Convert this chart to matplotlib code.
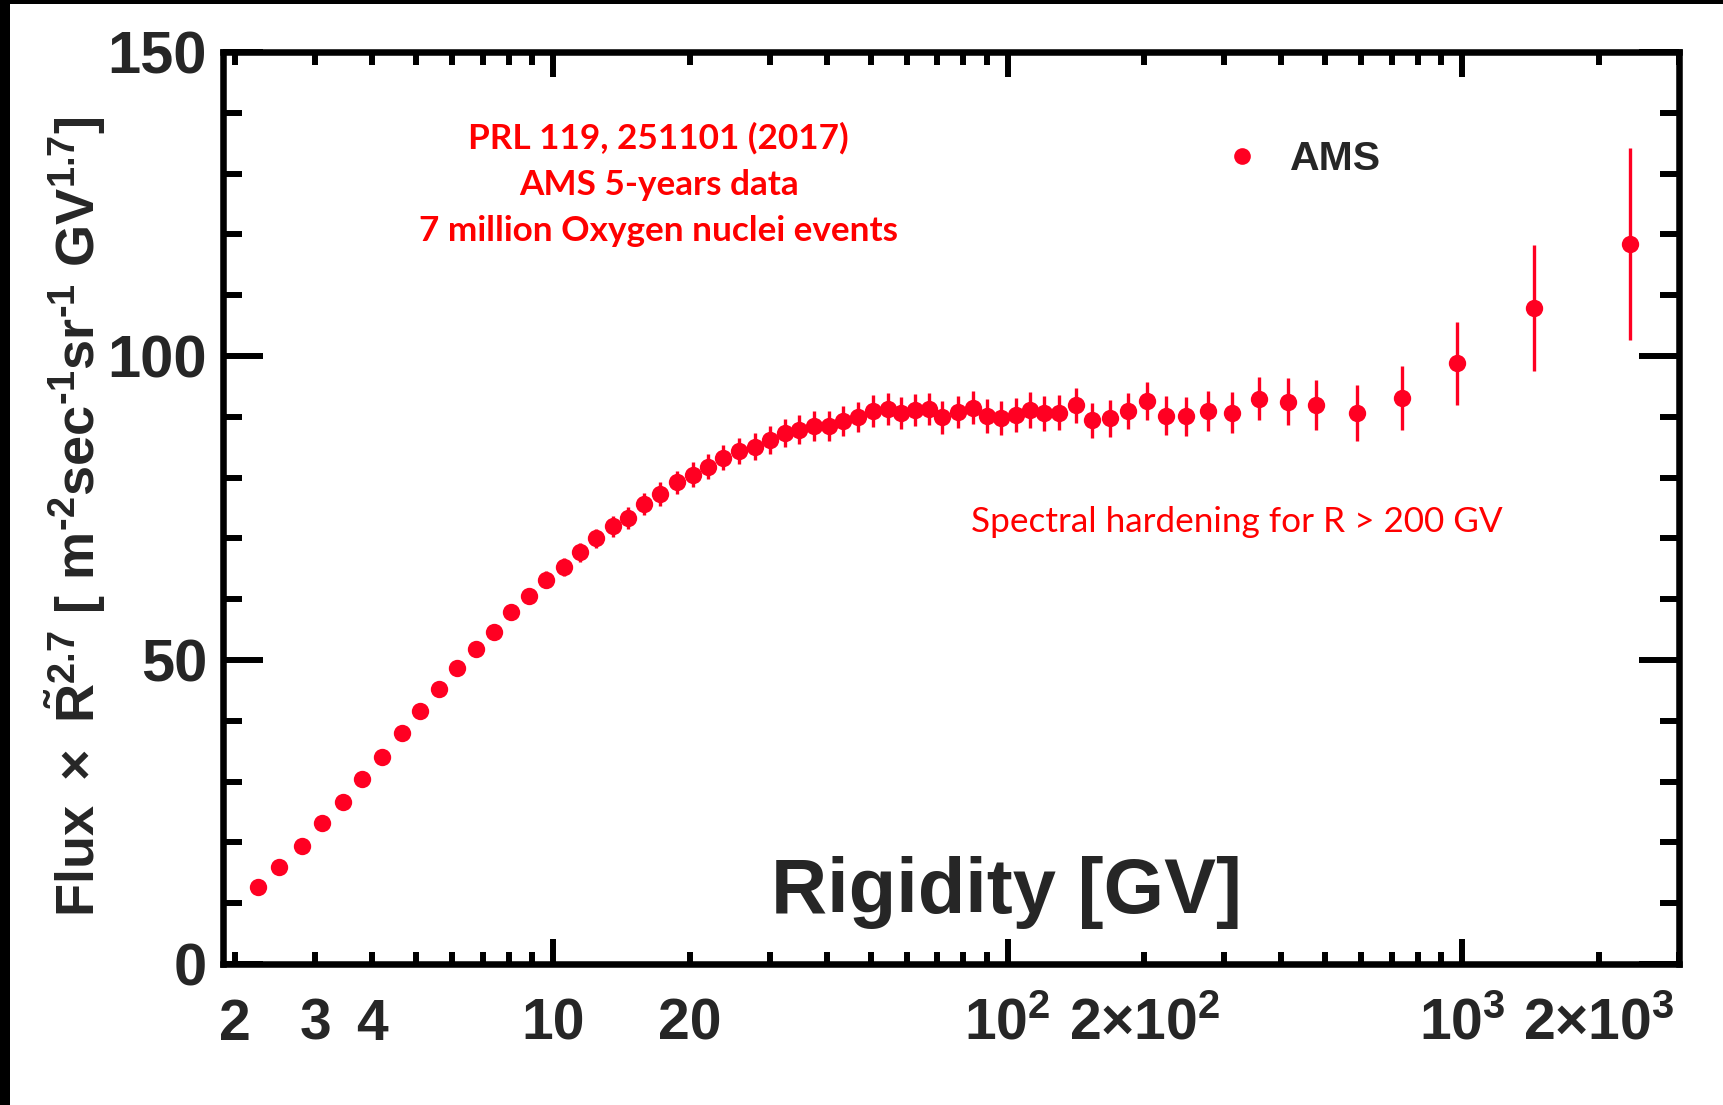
import numpy as np
import matplotlib
matplotlib.use("Agg")
import matplotlib.pyplot as plt
from matplotlib.ticker import LogLocator, MultipleLocator, FuncFormatter
from matplotlib.lines import Line2D
from matplotlib.patches import Rectangle

# ---------------- data ----------------
rigidity = [2.25, 2.50, 2.80, 3.11, 3.46, 3.81, 4.20, 4.65, 5.09, 5.61,
            6.14, 6.76, 7.41, 8.07, 8.85, 9.65, 10.56, 11.49, 12.46, 13.54,
            14.66, 15.89, 17.24, 18.75, 20.33, 21.93, 23.7, 25.7, 27.8, 30.06,
            32.4, 34.8, 37.6, 40.5, 43.5, 47.0, 50.7, 54.5, 58.2, 62.6,
            67.3, 71.7, 78.0, 83.8, 90.1, 96.8, 104.4, 112.2, 120.5, 130.0,
            141.5, 153.5, 167.7, 184.4, 202.4, 222.9, 246.7, 276.3, 312.4, 356.6,
            413.0, 477.0, 586.0, 738.0, 976.0, 1439.0, 2344.0]
flux_r27 = [12.7, 16.0, 19.4, 23.2, 26.6, 30.4, 34.0, 38.0, 41.6, 45.2,
            48.7, 51.8, 54.6, 57.9, 60.5, 63.2, 65.3, 67.7, 70.0, 72.0,
            73.3, 75.7, 77.3, 79.2, 80.5, 81.8, 83.3, 84.4, 85.1, 86.2,
            87.3, 87.9, 88.5, 88.5, 89.3, 90.0, 91.0, 91.3, 90.6, 91.1,
            91.3, 89.9, 90.8, 91.5, 90.2, 89.75, 90.3, 91.1, 90.6, 90.7,
            91.9, 89.4, 89.75, 90.95, 92.6, 90.2, 90.1, 91.0, 90.7, 93.0,
            92.5, 91.9, 90.7, 93.1, 98.8, 107.9, 118.4]
flux_err = [0.8, 0.8, 0.8, 0.8, 0.8, 0.8, 0.8, 0.8, 0.8, 0.8,
            0.8, 0.8, 0.8, 1.0, 1.1, 1.4, 1.5, 1.5, 1.6, 1.7,
            1.8, 1.8, 1.9, 1.9, 2.0, 2.0, 2.1, 2.1, 2.2, 2.3,
            2.3, 2.4, 2.4, 2.4, 2.5, 2.5, 2.6, 2.6, 2.6, 2.6,
            2.6, 2.7, 2.7, 2.7, 2.8, 2.8, 2.8, 2.9, 2.9, 2.9,
            2.9, 2.9, 3.0, 3.0, 3.1, 3.2, 3.2, 3.3, 3.4, 3.6,
            3.9, 4.1, 4.6, 5.3, 6.8, 10.3, 15.8]

x_tick_text = {2: "2", 3: "3", 4: "4", 10: "10", 20: "20",
               100: r"$10^{2}$", 200: r"$2{\times}10^{2}$",
               1000: r"$10^{3}$", 2000: r"$2{\times}10^{3}$"}
y_major_ticks = [0, 50, 100, 150]

legend_label = "AMS"
note_lines = ["PRL 119, 251101 (2017)", "AMS 5-years data",
              "7 million Oxygen nuclei events"]
hardening_note = "Spectral hardening for R > 200 GV"
xlabel = "Rigidity [GV]"
ylabel = ("$Flux\\ \\times\\ \\tilde{R}^{2.7}\\ [\\ m^{\u20102}sec^{\u20101}"
          "sr^{\u20101}\\ GV^{1.7}]$")

# ---------------- style ----------------
plt.rcParams.update({
    "font.family": "Liberation Sans",
    "font.weight": "bold",
    "mathtext.fontset": "custom",
    "mathtext.rm": "Liberation Sans:bold",
    "mathtext.bf": "Liberation Sans:bold",
    "mathtext.it": "Liberation Sans:bold",
    "mathtext.sf": "Liberation Sans:bold",
    "mathtext.default": "bf",
})

RED = "#ff0022"
DARK = "#262626"

W, H = 1724, 1105
fig = plt.figure(figsize=(W / 100, H / 100), dpi=100)
fig.patch.set_facecolor("white")
ax = fig.add_axes([223 / W, 1 - 964 / H, (1679 - 223) / W, (964 - 52) / H])

ax.errorbar(rigidity, flux_r27, yerr=flux_err, fmt="o", color=RED,
            ms=12.5, elinewidth=2.4, capsize=0, mew=0, zorder=3)

ax.set_xscale("log")
ax.set_xlim(1.88, 3000)
ax.set_ylim(0, 150)

ax.xaxis.set_major_locator(LogLocator(base=10, subs=(1.0,)))
ax.xaxis.set_minor_locator(LogLocator(base=10, subs=np.arange(2, 10)))
fmt = FuncFormatter(lambda v, p: x_tick_text.get(int(round(v)), "")
                    if abs(v - round(v)) < 1e-6 else "")
ax.xaxis.set_major_formatter(fmt)
ax.xaxis.set_minor_formatter(fmt)
ax.yaxis.set_major_locator(MultipleLocator(50))
ax.yaxis.set_minor_locator(MultipleLocator(10))
ax.set_yticks(y_major_ticks)

for s in ax.spines.values():
    s.set_linewidth(4.7)
    s.set_color("black")

ax.tick_params(which="both", direction="in", top=True, right=True,
               color="black", width=4.3, labelcolor=DARK)
ax.tick_params(axis="y", which="major", length=29, pad=11.5, labelsize=43)
ax.tick_params(axis="y", which="minor", length=14)
ax.tick_params(axis="x", which="major", length=18, pad=54.5, labelsize=41)
ax.tick_params(axis="x", which="minor", length=9, pad=54.5, labelsize=41)

# x label inside the axes
ax.text(0.5378, 0.0564, xlabel, transform=ax.transAxes, ha="center",
        va="baseline", fontsize=56, fontweight="bold", color=DARK)

# y label
fig.text(75 / W, 1 - 517 / H, ylabel, rotation=90, ha="center", va="center",
         fontsize=39, color=DARK)

# red annotations
for txt, yy in zip(note_lines, [0.9052, 0.8545, 0.8038]):
    ax.text(0.2992, yy, txt, transform=ax.transAxes, ha="center", va="center",
            fontsize=25.3, fontweight="bold", family="Lato", color="#ff0000")
ax.text(0.6964, 0.4843, hardening_note, transform=ax.transAxes, ha="center",
        va="center", fontsize=25.3, fontweight="normal", family="Lato",
        color="#ff0000")

# legend
handle = Line2D([], [], ls="none", marker="o", color=RED, ms=12, mew=0)
ax.legend(handles=[handle], labels=[legend_label], frameon=False,
          loc="center left", bbox_to_anchor=(0.6885, 0.8824),
          handlelength=0.8, handletextpad=0.78, borderpad=0, borderaxespad=0,
          prop={"family": "Liberation Sans", "weight": "bold", "size": 29.5},
          labelcolor=DARK)

# black strips on the left and top edges
fig.patches.append(Rectangle((0, 0), 10 / W, 1, transform=fig.transFigure,
                             facecolor="black", edgecolor="none", zorder=10))
fig.patches.append(Rectangle((0, 1 - 4 / H), 1, 4 / H, transform=fig.transFigure,
                             facecolor="black", edgecolor="none", zorder=10))

fig.canvas.draw()
for t in ax.xaxis.get_major_ticks() + ax.xaxis.get_minor_ticks():
    t.label1.set_verticalalignment("baseline")

fig.savefig("out.png", dpi=100, facecolor="white")
